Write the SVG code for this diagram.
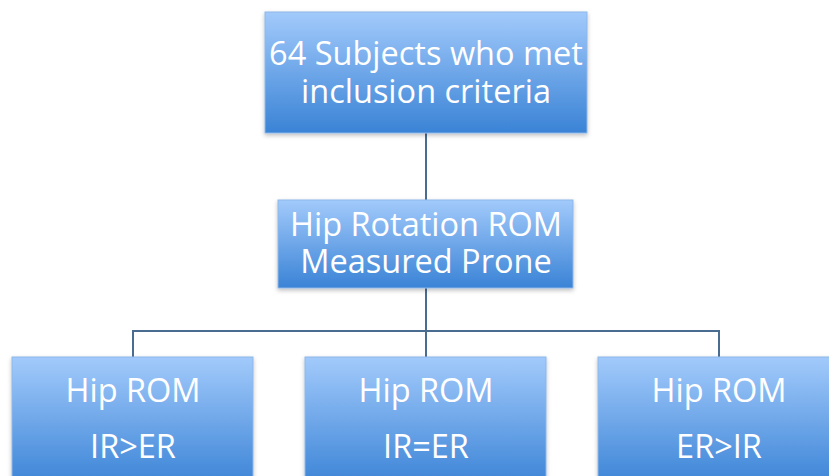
<svg xmlns="http://www.w3.org/2000/svg" width="829" height="476" viewBox="0 0 829 476">
  <defs>
    <linearGradient id="boxFill" x1="0" y1="0" x2="0" y2="1">
      <stop offset="0" stop-color="#a2cafb"/>
      <stop offset="1" stop-color="#3a83d6"/>
    </linearGradient>
    <filter id="shadow" x="-10%" y="-10%" width="120%" height="130%">
      <feDropShadow dx="0" dy="2" stdDeviation="2" flood-color="#000" flood-opacity="0.25"/>
    </filter>
  </defs>
  <style>
    .box { fill: url(#boxFill); stroke: #8db7ea; stroke-width: 1; filter: url(#shadow); }
    .label { fill: #ffffff; font-family: "Open Sans", "Noto Sans", sans-serif; font-size: 32.5px; text-anchor: middle; }
    .link { fill: none; stroke: #4a6c91; stroke-width: 2; }
  </style>
  <rect width="829" height="476" fill="#ffffff"/>

  <g id="connectors">
    <line class="link" x1="426" y1="133" x2="426" y2="200"/>
    <line class="link" x1="426" y1="288" x2="426" y2="331"/>
    <polyline class="link" points="133,357 133,331 719,331 719,357"/>
    <line class="link" x1="426" y1="331" x2="426" y2="357"/>
  </g>

  <g id="subjects">
    <rect class="box" x="265" y="12" width="322" height="121"/>
    <text class="label" x="426" y="65">64 Subjects who met</text>
    <text class="label" x="426" y="103">inclusion criteria</text>
  </g>

  <g id="measurement">
    <rect class="box" x="278" y="200" width="295" height="88"/>
    <text class="label" x="426" y="236">Hip Rotation ROM</text>
    <text class="label" x="426" y="273">Measured Prone</text>
  </g>

  <g id="ir-gt-er">
    <rect class="box" x="12" y="357" width="241" height="130"/>
    <text class="label" x="133" y="402">Hip ROM</text>
    <text class="label" x="133" y="458">IR&gt;ER</text>
  </g>

  <g id="ir-eq-er">
    <rect class="box" x="305" y="357" width="241" height="130"/>
    <text class="label" x="426" y="402">Hip ROM</text>
    <text class="label" x="426" y="458">IR=ER</text>
  </g>

  <g id="er-gt-ir">
    <rect class="box" x="598" y="357" width="241" height="130"/>
    <text class="label" x="719" y="402">Hip ROM</text>
    <text class="label" x="719" y="458">ER&gt;IR</text>
  </g>
</svg>
